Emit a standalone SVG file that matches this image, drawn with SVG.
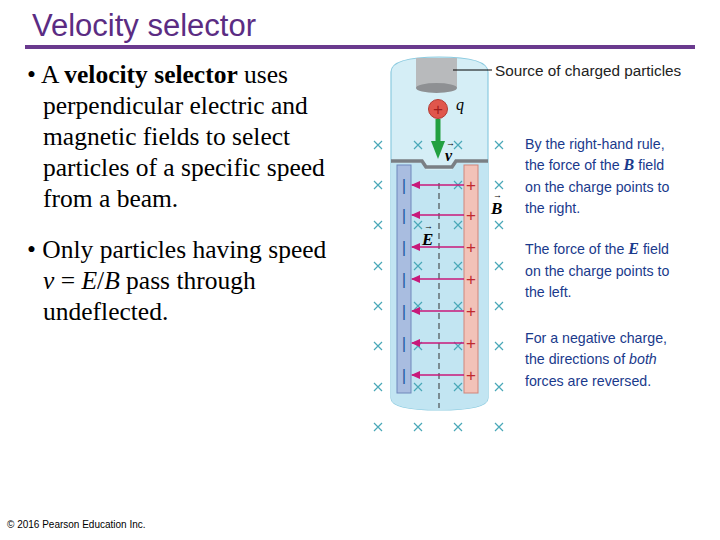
<svg xmlns="http://www.w3.org/2000/svg" width="720" height="540" viewBox="0 0 720 540">
<style>
.t{font-family:"Liberation Serif",serif;font-size:25.5px;fill:#000}
.s{font-family:"Liberation Sans",sans-serif;font-size:14.2px;fill:#1a3a8c}
.x{stroke:#4aa8b8;stroke-width:1.2}
.ar{stroke:#c8197a;stroke-width:1.5}
.vec{font-family:"Liberation Serif",serif;font-size:9px}
</style>
<defs>
<marker id="m" markerWidth="9" markerHeight="8" refX="8" refY="4" orient="auto" markerUnits="userSpaceOnUse"><path d="M0,0 L9,4 L0,8 Z" fill="#c8197a"/></marker>
<path id="X" d="M-4,-4 L4,4 M-4,4 L4,-4" class="x"/>
</defs>
<rect width="720" height="540" fill="#fff"/>
<text x="32" y="36" font-family="Liberation Sans,sans-serif" font-size="31" fill="#5b2c83">Velocity selector</text>
<rect x="25" y="45" width="670" height="4" fill="#6a3a8e"/>
<g id="text1">
<text class="t" x="27" y="83">• A <tspan font-weight="bold">velocity selector</tspan> uses</text>
<text class="t" x="43" y="114">perpendicular electric and</text>
<text class="t" x="43" y="145">magnetic fields to select</text>
<text class="t" x="43" y="176">particles of a specific speed</text>
<text class="t" x="43" y="207">from a beam.</text>
<text class="t" x="27" y="258">• Only particles having speed</text>
<text class="t" x="43" y="289"><tspan font-style="italic">v</tspan> = <tspan font-style="italic">E</tspan>/<tspan font-style="italic">B</tspan> pass through</text>
<text class="t" x="43" y="320">undeflected.</text>
</g>
<text x="7" y="528" font-family="Liberation Sans,sans-serif" font-size="10">© 2016 Pearson Education Inc.</text>
<g id="apparatus">
<path d="M391,72 Q391,57 439,57 Q488,57 488,72 L488,398 Q488,410 439,410 Q391,410 391,398 Z" fill="#d5eef6" stroke="#8ccbe0" stroke-width="1.2"/>
<path d="M391,163 L422,163 L426,170 L452,170 L456,163 L488,163 L488,398 Q488,410 439,410 Q391,410 391,398 Z" fill="#c2e5f2"/>
<path d="M391,161 L422,161 L426,167 L452,167 L456,161 L488,161" fill="none" stroke="#7a7f84" stroke-width="3.5"/>
<rect x="416" y="58" width="41" height="30" fill="#b8babc"/>
<ellipse cx="436.5" cy="88" rx="20.5" ry="5" fill="#8e9093"/>
<circle cx="438" cy="109" r="9.5" fill="#e0564c" stroke="#b33a33"/>
<text x="438" y="115" text-anchor="middle" font-family="Liberation Sans,sans-serif" font-size="17" fill="#a01c1c">+</text>
<text x="456" y="110" font-family="Liberation Serif,serif" font-style="italic" font-size="16">q</text>
<path d="M438,119 L438,142" stroke="#22a040" stroke-width="5"/>
<path d="M431,141 L445,141 L438,159 Z" fill="#22a040"/>
<text x="445" y="161" font-family="Liberation Serif,serif" font-style="italic" font-weight="bold" font-size="16">v</text>
<text class="vec" x="446" y="146">→</text>
<text x="422" y="245" font-family="Liberation Serif,serif" font-style="italic" font-weight="bold" font-size="17">E</text>
<text class="vec" x="424" y="229">→</text>
<text x="491" y="214" font-family="Liberation Serif,serif" font-style="italic" font-weight="bold" font-size="17">B</text>
<text class="vec" x="493" y="198">→</text>
<rect x="397" y="165" width="14" height="228" fill="#a9bde0" stroke="#6f88bb"/>
<rect x="464" y="165" width="14" height="228" fill="#f2c2b8" stroke="#d0857a"/>
<path d="M439,183 L439,408" stroke="#333" stroke-dasharray="6,4"/>
</g>
<g id="fieldmarks">
<use href="#X" x="378" y="145"/><use href="#X" x="418" y="145"/><use href="#X" x="458" y="145"/><use href="#X" x="499" y="145"/>
<use href="#X" x="378" y="185"/><use href="#X" x="458" y="185"/><use href="#X" x="499" y="185"/>
<use href="#X" x="378" y="225"/><use href="#X" x="418" y="225"/><use href="#X" x="458" y="225"/><use href="#X" x="499" y="225"/>
<use href="#X" x="378" y="266"/><use href="#X" x="418" y="266"/><use href="#X" x="458" y="266"/><use href="#X" x="499" y="266"/>
<use href="#X" x="378" y="306"/><use href="#X" x="418" y="306"/><use href="#X" x="458" y="306"/><use href="#X" x="499" y="306"/>
<use href="#X" x="378" y="346"/><use href="#X" x="418" y="346"/><use href="#X" x="458" y="346"/><use href="#X" x="499" y="346"/>
<use href="#X" x="378" y="387"/><use href="#X" x="418" y="387"/><use href="#X" x="458" y="387"/><use href="#X" x="499" y="387"/>
<use href="#X" x="378" y="427"/><use href="#X" x="418" y="427"/><use href="#X" x="458" y="427"/><use href="#X" x="499" y="427"/>
</g>
<g id="charges" font-family="Liberation Sans,sans-serif" font-size="17" text-anchor="middle">
<g fill="#1f5fa8"><text x="404" y="191">|</text><text x="404" y="221">|</text><text x="404" y="253">|</text><text x="404" y="285">|</text><text x="404" y="317">|</text><text x="404" y="349">|</text><text x="404" y="381">|</text></g>
<g fill="#c0282e"><text x="471" y="191">+</text><text x="471" y="221">+</text><text x="471" y="253">+</text><text x="471" y="285">+</text><text x="471" y="317">+</text><text x="471" y="349">+</text><text x="471" y="381">+</text></g>
</g>
<g id="connectors">
<line x1="464" y1="185" x2="412" y2="185" class="ar" marker-end="url(#m)"/>
<line x1="464" y1="215" x2="412" y2="215" class="ar" marker-end="url(#m)"/>
<line x1="464" y1="247" x2="412" y2="247" class="ar" marker-end="url(#m)"/>
<line x1="464" y1="279" x2="412" y2="279" class="ar" marker-end="url(#m)"/>
<line x1="464" y1="311" x2="412" y2="311" class="ar" marker-end="url(#m)"/>
<line x1="464" y1="343" x2="412" y2="343" class="ar" marker-end="url(#m)"/>
<line x1="464" y1="375" x2="412" y2="375" class="ar" marker-end="url(#m)"/>
<line x1="453" y1="70" x2="492" y2="70" stroke="#000"/>
</g>
<g id="labels">
<text x="495" y="76" font-family="Liberation Sans,sans-serif" font-size="15.3" fill="#222">Source of charged particles</text>
<text class="s" x="525" y="149">By the right-hand rule,</text>
<text class="s" x="525" y="170">the force of the <tspan font-family="Liberation Serif,serif" font-style="italic" font-weight="bold" font-size="16">B</tspan> field</text>
<text class="s" x="525" y="192">on the charge points to</text>
<text class="s" x="525" y="213">the right.</text>
<text class="s" x="525" y="254">The force of the <tspan font-family="Liberation Serif,serif" font-style="italic" font-weight="bold" font-size="16">E</tspan> field</text>
<text class="s" x="525" y="276">on the charge points to</text>
<text class="s" x="525" y="297">the left.</text>
<text class="s" x="525" y="343">For a negative charge,</text>
<text class="s" x="525" y="364">the directions of <tspan font-style="italic">both</tspan></text>
<text class="s" x="525" y="386">forces are reversed.</text>
</g>
</svg>
